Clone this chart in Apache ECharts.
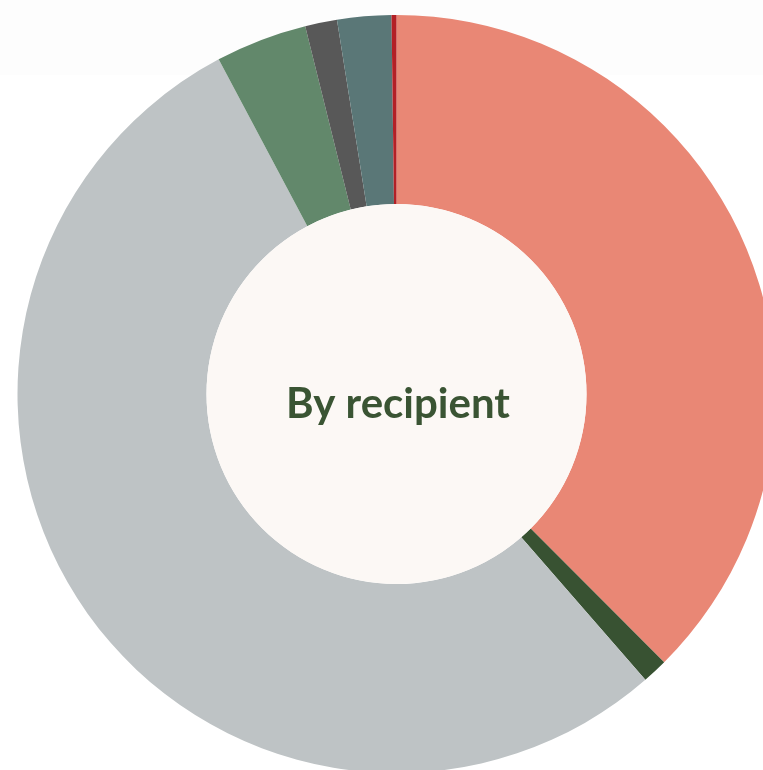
<!DOCTYPE html>
<html>
<head>
<meta charset="utf-8">
<script src="https://cdn.jsdelivr.net/npm/echarts@6/dist/echarts.min.js"></script>
<style>
  html, body { margin: 0; padding: 0; background: #ffffff; }
  #chart { width: 763px; height: 770px; }
</style>
</head>
<body>
<div id="chart"></div>
<script>
// Share of spending by recipient (percent), clockwise from 12 o'clock
const recipients = ['Recipient 1', 'Recipient 2', 'Recipient 3', 'Recipient 4', 'Recipient 5', 'Recipient 6', 'Recipient 7'];
const shares = [37.5, 1.08, 53.6, 3.9, 1.36, 2.3, 0.21];
const colors = ['#E98775', '#385232', '#BEC3C5', '#62886B', '#585858', '#5A7777', '#B32026'];
const centerTitle = 'By recipient';

const chart = echarts.init(document.getElementById('chart'), null, { renderer: 'canvas' });

chart.setOption({
  animation: false,
  backgroundColor: '#ffffff',
  graphic: [{
    type: 'rect',
    z: 0,
    shape: { x: 0, y: 0, width: 763, height: 75 },
    style: { fill: '#fdfdfd' }
  }],
  series: [
    {
      type: 'pie',
      z: 2,
      center: [396.5, 394],
      radius: [190, 379],
      startAngle: 90,
      clockwise: true,
      avoidLabelOverlap: false,
      label: { show: false },
      labelLine: { show: false },
      emphasis: { disabled: true },
      itemStyle: { borderWidth: 0 },
      data: recipients.map((name, i) => ({
        name: name,
        value: shares[i],
        itemStyle: { color: colors[i] }
      }))
    },
    {
      type: 'pie',
      z: 3,
      center: [396.5, 394],
      radius: [0, 190],
      silent: true,
      emphasis: { disabled: true },
      label: {
        show: true,
        position: 'center',
        formatter: centerTitle,
        offset: [1.5, 10],
        fontFamily: 'Lato',
        fontWeight: 'bold',
        fontSize: 42,
        color: '#3A5433'
      },
      labelLine: { show: false },
      itemStyle: { color: '#FCF8F5' },
      data: [{ name: centerTitle, value: 1 }]
    }
  ]
});
</script>
</body>
</html>
